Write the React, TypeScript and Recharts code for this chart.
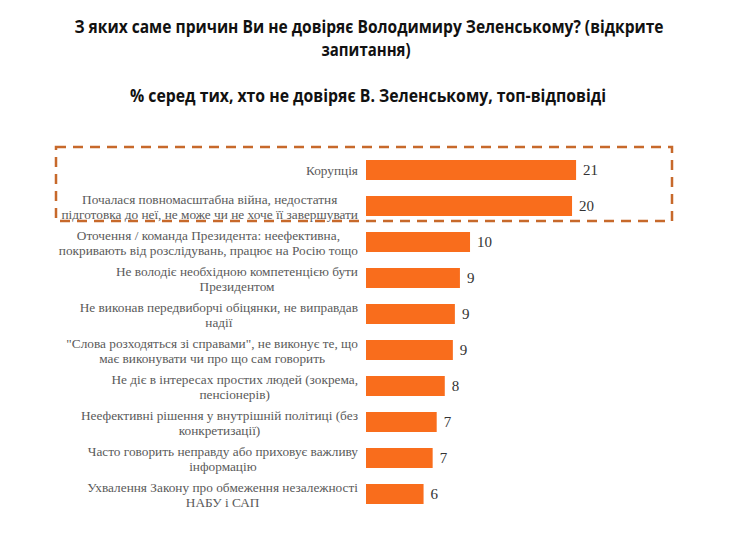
import React from 'react';
import { BarChart, Bar, XAxis, YAxis, LabelList } from 'recharts';

const categories = [
  'Корупція',
  'Почалася повномасштабна війна, недостатня\nпідготовка до неї, не може чи не хоче її завершувати',
  'Оточення / команда Президента: неефективна,\nпокривають від розслідувань, працює на Росію тощо',
  'Не володіє необхідною компетенцією бути\nПрезидентом',
  'Не виконав передвиборчі обіцянки, не виправдав\nнадії',
  '"Слова розходяться зі справами", не виконує те, що\nмає виконувати чи про що сам говорить',
  'Не діє в інтересах простих людей (зокрема,\nпенсіонерів)',
  'Неефективні рішення у внутрішній політиці (без\nконкретизації)',
  'Часто говорить неправду або приховує важливу\nінформацію',
  'Ухвалення Закону про обмеження незалежності\nНАБУ і САП',
];
const values = [20.8, 20.4, 10.3, 9.3, 8.8, 8.6, 7.8, 7.0, 6.6, 5.7];
const titleLines = [
  'З яких саме причин Ви не довіряє Володимиру Зеленському? (відкрите',
  'запитання)',
];
const subtitle = '% серед тих, хто не довіряє В. Зеленському, топ-відповіді';

const data = categories.map((name, i) => ({ name, value: values[i] }));

const SERIF = 'Liberation Serif';
const LABEL_SIZE = 13.3;
let ctx: CanvasRenderingContext2D | null = null;
const measure = (t: string) => {
  if (!ctx) ctx = document.createElement('canvas').getContext('2d');
  if (!ctx) return t.length * 6.5;
  ctx.font = `${LABEL_SIZE}px "Liberation Serif"`;
  return ctx.measureText(t).width;
};

const CategoryTick = (props: any) => {
  const { x, y, payload } = props;
  const lines: string[] = String(payload.value).split('\n');
  const maxW = Math.max(...lines.map(measure));
  const cx = x - maxW / 2;
  return (
    <text
      textAnchor="middle"
      fill="#5a5a5a"
      fontFamily={SERIF}
      fontSize={LABEL_SIZE}
      style={{ fontFamily: SERIF, fontSize: LABEL_SIZE }}
    >
      {lines.map((l, i) => (
        <tspan key={i} x={cx} y={y + 5 + (i - (lines.length - 1) / 2) * 15} fontFamily={SERIF}>
          {l}
        </tspan>
      ))}
    </text>
  );
};

const ValueLabel = (props: any) => {
  const { x, y, width, height, value } = props;
  return (
    <text
      x={x + width + 7}
      y={y + height / 2 + 5}
      fill="#333"
      fontFamily={SERIF}
      fontSize={15}
      style={{ fontFamily: SERIF, fontSize: 15 }}
    >
      {Math.round(Number(value))}
    </text>
  );
};

export default function App() {
  return (
    <div style={{ position: 'absolute', left: 0, top: 0, width: 740, height: 535, background: '#fff' }}>
      <BarChart
        width={740}
        height={535}
        data={data}
        layout="vertical"
        margin={{ top: 152, right: 71, bottom: 23, left: 0 }}
      >
        <XAxis type="number" domain={[0, 30]} hide />
        <YAxis
          type="category"
          dataKey="name"
          width={366}
          interval={0}
          tickLine={false}
          axisLine={false}
          tickSize={0}
          tickMargin={8}
          tick={<CategoryTick />}
        />
        <Bar dataKey="value" fill="#f96d1c" barSize={20} isAnimationActive={false}>
          <LabelList dataKey="value" content={<ValueLabel />} />
        </Bar>
      </BarChart>
      <svg width={740} height={535} style={{ position: 'absolute', left: 0, top: 0, pointerEvents: 'none' }}>
        <g fontFamily="Open Sans" fontWeight={700} fontSize={17} fill="#111" textAnchor="middle">
          <text x={369} y={33} textLength={589} lengthAdjust="spacingAndGlyphs">{titleLines[0]}</text>
          <text x={366} y={55.5} textLength={89} lengthAdjust="spacingAndGlyphs">{titleLines[1]}</text>
          <text x={368} y={102} textLength={476} lengthAdjust="spacingAndGlyphs">{subtitle}</text>
        </g>
        <rect x={56} y={147} width={616} height={74} fill="none" stroke="#c7692b" strokeWidth={2.5} strokeDasharray="10 7" />
      </svg>
    </div>
  );
}
